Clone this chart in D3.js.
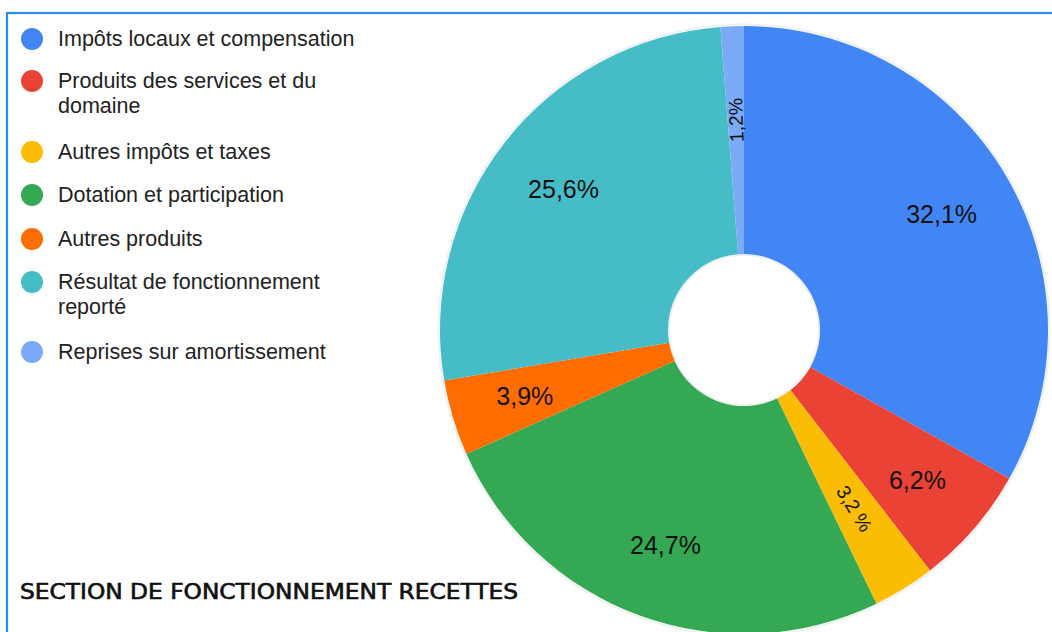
<!DOCTYPE html>
<html>
<head>
<meta charset="utf-8">
<script src="https://cdn.jsdelivr.net/npm/d3@7"></script>
<style>
  body { margin: 0; background: #fff; }
  svg { display: block; }
</style>
</head>
<body>
<svg id="chart" width="1052" height="632"></svg>
<script>
// data
const categories = [
  "Impôts locaux et compensation",
  "Produits des services et du domaine",
  "Autres impôts et taxes",
  "Dotation et participation",
  "Autres produits",
  "Résultat de fonctionnement reporté",
  "Reprises sur amortissement"
];
const legend_lines = [
  ["Impôts locaux et compensation"],
  ["Produits des services et du", "domaine"],
  ["Autres impôts et taxes"],
  ["Dotation et participation"],
  ["Autres produits"],
  ["Résultat de fonctionnement", "reporté"],
  ["Reprises sur amortissement"]
];
const values = [32.1, 6.2, 3.2, 24.7, 3.9, 25.6, 1.2];
const value_labels = ["32,1%", "6,2%", "3,2 %", "24,7%", "3,9%", "25,6%", "1,2%"];
const colors = ["#4285f4", "#ea4335", "#fbbc04", "#34a853", "#ff6d01", "#46bdc6", "#7baaf7"];
const title = "SECTION DE FONCTIONNEMENT RECETTES";

const svg = d3.select("#chart");

// frame
svg.append("rect")
    .attr("x", 7).attr("y", 13)
    .attr("width", 1100).attr("height", 700)
    .attr("fill", "none")
    .attr("stroke", "#2b8cf2").attr("stroke-width", 2.2);

// pie
const cx = 744, cy = 330, R = 304, r0 = 76;
const pie = d3.pie().sort(null).value(d => d);
const arcs = pie(values);
const arc = d3.arc().innerRadius(r0).outerRadius(R);

const G = svg.append("g").attr("transform", "translate(" + [cx, cy] + ")");

G.append("circle")
    .attr("r", R + 1.5)
    .attr("fill", "none")
    .attr("stroke", "#eef0f4").attr("stroke-width", 2);
G.append("circle")
    .attr("r", r0 - 1)
    .attr("fill", "none")
    .attr("stroke", "#eef0f4").attr("stroke-width", 2);

G.selectAll("path.slice")
  .data(arcs)
  .enter()
  .append("path")
    .attr("class", "slice")
    .attr("d", arc)
    .attr("fill", (d, i) => colors[i]);

// labels: horizontal for big slices, radial for thin ones
function is_thin(d){ return (d.endAngle - d.startAngle) < 0.22; }
G.selectAll("text.val")
  .data(arcs)
  .enter()
  .append("text")
    .attr("class", "val")
    .attr("transform", function(d){
      const a = (d.startAngle + d.endAngle) / 2;
      const rr = is_thin(d) ? 210 : 229;
      const x = Math.sin(a) * rr, y = -Math.cos(a) * rr;
      const rot = is_thin(d) ? (a * 180 / Math.PI - 90) : 0;
      return "translate(" + [x, y] + ") rotate(" + rot + ")";
    })
    .attr("text-anchor", "middle")
    .attr("dominant-baseline", "central")
    .attr("font-family", "Liberation Sans, Arial, sans-serif")
    .attr("font-size", d => is_thin(d) ? 19.5 : 25)
    .attr("fill", "#111")
    .text((d, i) => value_labels[i]);

// legend
const rowY = [39, 81, 152, 195, 239, 282, 352];
const LEG = svg.append("g").attr("class", "legend");
categories.forEach(function(c, i){
  const row = LEG.append("g").attr("transform", "translate(" + [0, rowY[i]] + ")");
  row.append("circle")
      .attr("cx", 32).attr("cy", 0).attr("r", 11)
      .attr("fill", colors[i]);
  legend_lines[i].forEach(function(line, j){
    row.append("text")
        .attr("x", 58).attr("y", j * 25)
        .attr("dominant-baseline", "central")
        .attr("font-family", "Liberation Sans, Arial, sans-serif")
        .attr("font-size", 21.5)
        .attr("fill", "#222")
        .text(line);
  });
});

// title
svg.append("text")
    .attr("x", 20).attr("y", 599)
    .attr("font-family", "DejaVu Sans Condensed, DejaVu Sans, sans-serif")
    .attr("font-size", 21)
    .attr("textLength", 498)
    .attr("lengthAdjust", "spacingAndGlyphs")
    .attr("fill", "#111")
    .attr("stroke", "#111").attr("stroke-width", 0.6)
    .text(title);
</script>
</body>
</html>
